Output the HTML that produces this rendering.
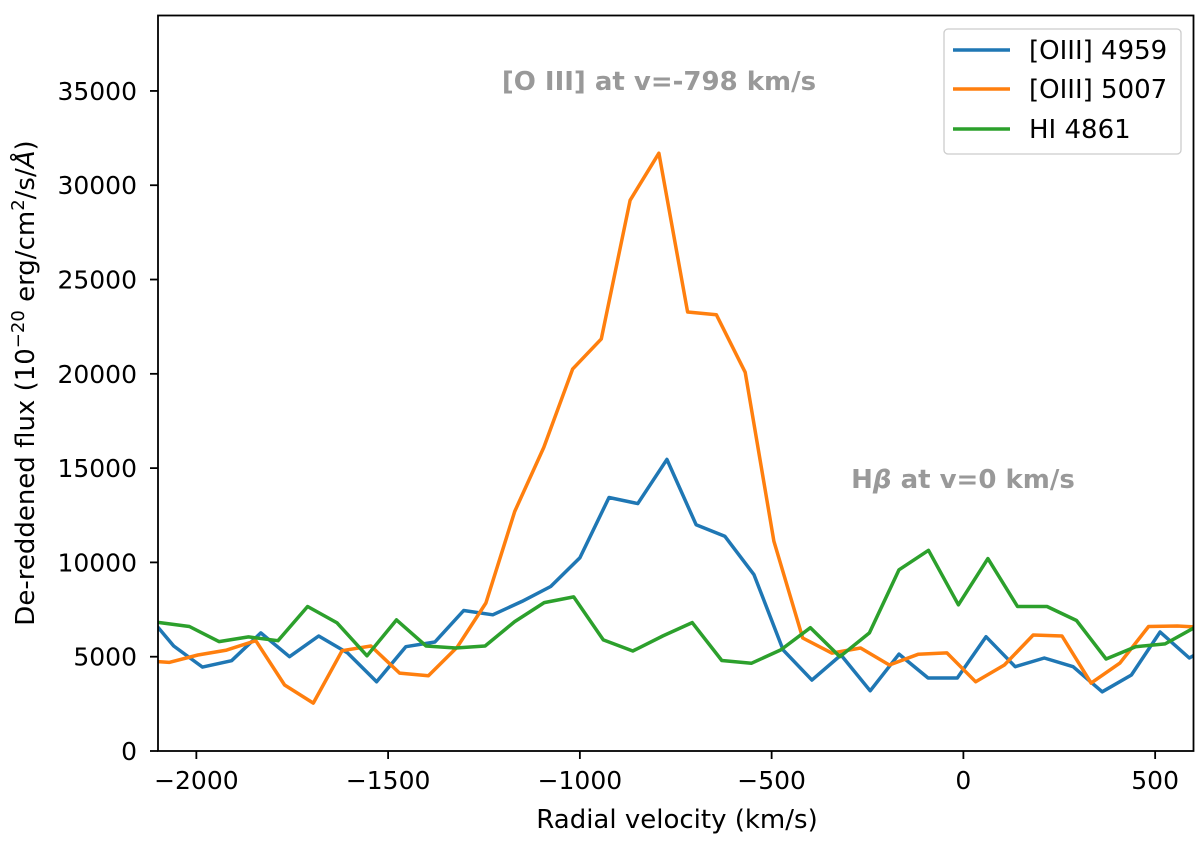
<!DOCTYPE html>
<html><head><meta charset="utf-8"><style>
html,body{margin:0;padding:0;background:#fff;}
svg text{font-family:"DejaVu Sans","Liberation Sans",sans-serif;}
</style></head><body>
<svg id="chart" width="1200" height="839" xmlns="http://www.w3.org/2000/svg">
<defs><clipPath id="clip"><rect x="158" y="15.5" width="1035.5" height="735.5"/></clipPath></defs>
<g id="grid-ticks"></g>
<g id="series" clip-path="url(#clip)"></g>
<rect x="158" y="15.5" width="1035.5" height="735.5" fill="none" stroke="#000" stroke-width="1.8"/>
<text x="659" y="90" font-size="26" font-weight="bold" fill="#999" text-anchor="middle">[O III] at v=-798 km/s</text>
<text x="963" y="488" font-size="26" font-weight="bold" fill="#999" text-anchor="middle">H<tspan font-style="italic">β</tspan> at v=0 km/s</text>
<text x="677" y="828" font-size="26" text-anchor="middle">Radial velocity (km/s)</text>
<text transform="translate(34,383) rotate(-90)" font-size="26" text-anchor="middle">De-reddened flux (10<tspan dy="-10" font-size="18">−20</tspan><tspan dy="10"> erg/cm</tspan><tspan dy="-10" font-size="18">2</tspan><tspan dy="10">/s/</tspan><tspan font-style="italic">Å</tspan>)</text>
<g>
<rect x="944" y="29" width="237" height="125" rx="4" fill="#fff" stroke="#ccc" stroke-width="1.3"/>
<line x1="953" y1="50" x2="1010" y2="50" stroke="#1f77b4" stroke-width="3.5"/>
<text x="1029" y="59" font-size="26">[OIII] 4959</text>
<line x1="953" y1="89" x2="1010" y2="89" stroke="#ff7f0e" stroke-width="3.5"/>
<text x="1029" y="98" font-size="26">[OIII] 5007</text>
<line x1="953" y1="129" x2="1010" y2="129" stroke="#2ca02c" stroke-width="3.5"/>
<text x="1029" y="138" font-size="26">HI 4861</text>
</g>
</svg>
<script>
const xTicks = [-2000, -1500, -1000, -500, 0, 500];
const yTicks = [0, 5000, 10000, 15000, 20000, 25000, 30000, 35000];
const vel4959 = [-2135,-2059,-1984,-1908,-1832,-1757,-1681,-1606,-1530,-1454,-1378,-1303,-1227,-1151,-1076,-1000,-924,-849,-773,-697,-622,-546,-470,-395,-319,-243,-168,-92,-16,59,135,211,286,362,438,513,589,665];
const flux4959 = [7400,5570,4450,4790,6260,5000,6100,5200,3670,5530,5780,7450,7220,7930,8720,10250,13440,13120,15460,12000,11390,9350,5360,3760,5090,3190,5140,3870,3870,6060,4470,4930,4470,3140,4030,6310,4930,5800];
const vel5007 = [-2146,-2071,-1996,-1921,-1845,-1770,-1695,-1620,-1545,-1470,-1395,-1320,-1245,-1170,-1094,-1019,-944,-869,-794,-719,-644,-569,-494,-419,-343,-268,-193,-118,-43,32,107,182,257,333,408,483,558,633];
const flux5007 = [4800,4700,5090,5350,5850,3500,2540,5320,5570,4130,3990,5500,7850,12700,16100,20250,21850,29200,31700,23280,23130,20080,11120,5990,5190,5460,4560,5130,5200,3670,4560,6150,6100,3600,4660,6600,6630,6550];
const vel4861 = [-2172,-2095,-2018,-1941,-1864,-1787,-1710,-1633,-1555,-1478,-1401,-1324,-1247,-1170,-1093,-1016,-939,-862,-784,-707,-630,-553,-476,-399,-322,-245,-168,-91,-13,64,141,218,295,372,449,526,603];
const flux4861 = [6950,6810,6600,5800,6050,5850,7660,6790,5050,6950,5570,5460,5570,6860,7870,8170,5890,5300,6100,6810,4800,4650,5360,6540,5000,6260,9610,10640,7750,10200,7660,7660,6920,4880,5530,5680,6550];

const X0=158, X1=1193.5, Y0=751, Y1=15.5, XMIN=-2100, XMAX=600, YMIN=0, YMAX=39000;
function xs(v){return X0+(v-XMIN)/(XMAX-XMIN)*(X1-X0);}
function ys(v){return Y0-(v-YMIN)/(YMAX-YMIN)*(Y0-Y1);}
const NS='http://www.w3.org/2000/svg';
const gt=document.getElementById('grid-ticks');
const gs=document.getElementById('series');
function fmt(n){return n<0?'−'+Math.abs(n):String(n);}
xTicks.forEach(t=>{
  const l=document.createElementNS(NS,'line');
  l.setAttribute('x1',xs(t));l.setAttribute('x2',xs(t));l.setAttribute('y1',Y0);l.setAttribute('y2',Y0+8);
  l.setAttribute('stroke','#000');l.setAttribute('stroke-width','1.8');
  
  
  gt.appendChild(l);
  const tx=document.createElementNS(NS,'text');
  tx.setAttribute('x',xs(t));tx.setAttribute('y',Y0+38);tx.setAttribute('font-size','25');tx.setAttribute('text-anchor','middle');
  tx.textContent=fmt(t);
  
  
  gt.appendChild(tx);
});
yTicks.forEach(t=>{
  const l=document.createElementNS(NS,'line');
  l.setAttribute('x1',X0-8);l.setAttribute('x2',X0);l.setAttribute('y1',ys(t));l.setAttribute('y2',ys(t));
  l.setAttribute('stroke','#000');l.setAttribute('stroke-width','1.8');
  
  
  gt.appendChild(l);
  const tx=document.createElementNS(NS,'text');
  tx.setAttribute('x',X0-21);tx.setAttribute('y',ys(t)+9);tx.setAttribute('font-size','25');tx.setAttribute('text-anchor','end');
  tx.textContent=fmt(t);
  
  
  gt.appendChild(tx);
});
function drawLine(vx,vy,color,name){
  const p=document.createElementNS(NS,'polyline');
  p.setAttribute('points',vx.map((v,i)=>xs(v).toFixed(1)+','+ys(vy[i]).toFixed(1)).join(' '));
  p.setAttribute('fill','none');p.setAttribute('stroke',color);p.setAttribute('stroke-width','3.5');p.setAttribute('stroke-linejoin','round');
  
  
  gs.appendChild(p);
}
drawLine(vel4959,flux4959,'#1f77b4','line-oiii-4959');
drawLine(vel5007,flux5007,'#ff7f0e','line-oiii-5007');
drawLine(vel4861,flux4861,'#2ca02c','line-hi-4861');
</script>
</body></html>
